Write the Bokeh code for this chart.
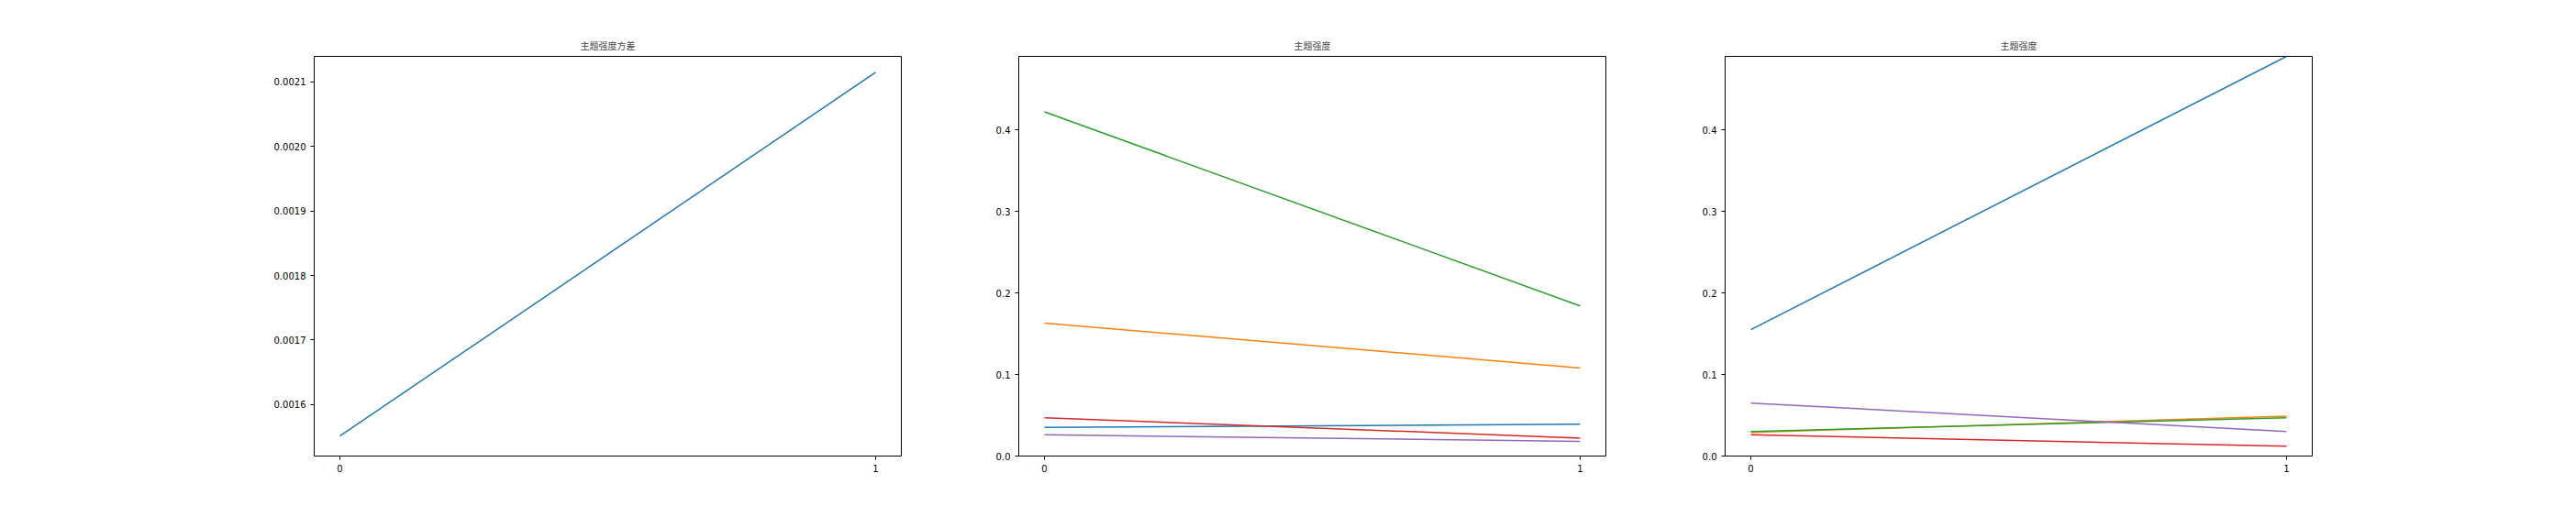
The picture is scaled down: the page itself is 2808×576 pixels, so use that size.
from bokeh.embed import file_html
from bokeh.layouts import row
from bokeh.models import FixedTicker, Legend, LegendItem, PrintfTickFormatter, Range1d
from bokeh.plotting import figure
from bokeh.resources import INLINE

x = [0, 1]
variance = [0.001551, 0.002115]

topics_a = ["Topic 1", "Topic 2", "Topic 3", "Topic 4", "Topic 5"]
values_a = [
    [0.035, 0.039],
    [0.163, 0.108],
    [0.422, 0.184],
    [0.047, 0.022],
    [0.026, 0.018],
]
topics_b = ["Topic 6", "Topic 7", "Topic 8", "Topic 9", "Topic 10"]
values_b = [
    [0.155, 0.49],
    [0.029, 0.049],
    [0.030, 0.047],
    [0.026, 0.012],
    [0.065, 0.030],
]

COLORS = ["#1f77b4", "#ff7f0e", "#2ca02c", "#d62728", "#9467bd"]
TICK_FONT = "DejaVu Sans"


def make_fig(title, y_range, yticks, left, right):
    p = figure(
        title=title,
        width=left + 640 + right,
        height=560,
        min_border_left=left,
        min_border_right=right,
        min_border_top=61,
        min_border_bottom=63,
        x_range=Range1d(-0.048, 1.048),
        y_range=y_range,
        output_backend="svg",
        toolbar_location=None,
    )
    p.title.align = "center"
    p.title.text_font = "Noto Sans CJK SC"
    p.title.text_font_size = "10px"
    p.title.text_font_style = "normal"
    p.grid.visible = False
    p.outline_line_color = "black"
    p.outline_line_alpha = 1
    p.xaxis.ticker = FixedTicker(ticks=[0, 1])
    p.yaxis.ticker = FixedTicker(ticks=yticks)
    for ax in (p.xaxis[0], p.yaxis[0]):
        ax.major_tick_in = 0
        ax.major_tick_out = 4
        ax.minor_tick_line_color = None
        ax.axis_line_color = None
        ax.major_label_text_font = TICK_FONT
        ax.major_label_text_font_size = "10px"
        ax.major_label_text_color = "black"
    return p


p1 = make_fig("主题强度方差", Range1d(0.001520, 0.0021398),
              [0.0016, 0.0017, 0.0018, 0.0019, 0.0020, 0.0021], 342, 10)
p1.yaxis.formatter = PrintfTickFormatter(format="%.4f")
p1.line(x, variance, color=COLORS[0], line_width=1.5)


def topic_fig(names, vals, left, right):
    p = make_fig("主题强度", Range1d(0, 0.49), [0.0, 0.1, 0.2, 0.3, 0.4], left, right)
    p.yaxis.formatter = PrintfTickFormatter(format="%.1f")
    items = []
    for name, v, c in zip(names, vals, COLORS):
        r = p.line(x, v, color=c, line_width=1.5)
        items.append(LegendItem(label=name, renderers=[r]))
    leg = Legend(items=items, location=(651, 365), label_text_font=TICK_FONT,
                 label_text_font_size="10px", glyph_width=18, glyph_height=12,
                 label_height=12, spacing=2, padding=4, margin=0,
                 border_line_color="#cccccc")
    p.add_layout(leg, "center")
    return p


p2 = topic_fig(topics_a, values_a, 118, 79)
p3 = topic_fig(topics_b, values_b, 51, 110)

layout = row(p1, p2, p3)
open("out.html", "w").write(file_html(layout, INLINE))
